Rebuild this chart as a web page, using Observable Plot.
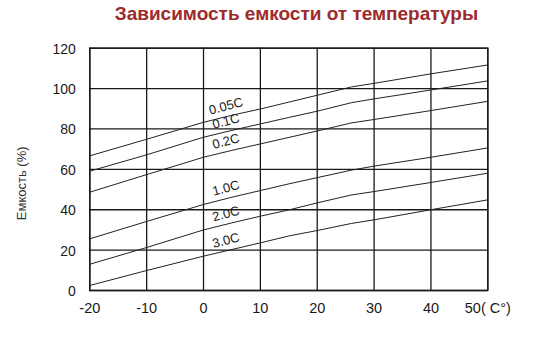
<!DOCTYPE html>
<html><head><meta charset="utf-8">
<script src="https://cdn.jsdelivr.net/npm/d3@7"></script>
<script src="https://cdn.jsdelivr.net/npm/@observablehq/plot@0.6"></script>
<style>
body{margin:0;background:#fff;font-family:"Liberation Sans",Arial,sans-serif;}
#title{height:30px;line-height:27px;text-align:center;padding-left:48px;box-sizing:border-box;width:545px;font-weight:bold;font-size:19px;color:#9e2a2b;}
</style>
</head><body>
<div id="title">Зависимость емкости от температуры</div>
<div id="chart"></div>
<script>
const temps = [-20, -10, 0, 5, 10, 15, 20, 26, 30, 40, 50];
const c005 = [66.7, 74.9, 83.3, 86.8, 89.9, 93.3, 96.7, 100.8, 102.6, 107.3, 111.7];
const c01  = [59.1, 67.2, 75.9, 79.3, 82.5, 85.7, 88.8, 93.0, 94.9, 99.3, 103.8];
const c02  = [48.7, 57.4, 66.0, 69.4, 72.6, 75.8, 79.0, 83.0, 84.7, 89.1, 93.7];
const c10  = [25.6, 34.2, 42.6, 46.2, 49.5, 52.8, 55.9, 59.6, 61.6, 66.0, 70.6];
const c20  = [13.0, 21.3, 30.0, 33.5, 36.8, 39.9, 43.4, 47.3, 49.0, 53.5, 58.1];
const c30  = [2.5, 9.9, 17.0, 20.3, 23.6, 27.0, 29.7, 33.2, 35.0, 40.0, 44.9];
const seriesNames = ["0.05C", "0.1C", "0.2C", "1.0C", "2.0C", "3.0C"];
const seriesValues = [c005, c01, c02, c10, c20, c30];
const xTicks = [-20, -10, 0, 10, 20, 30, 40, 50];
const yTicks = [0, 20, 40, 60, 80, 100, 120];
const labelTemp = 5;

const data = [];
seriesNames.forEach((name, i) => temps.forEach((t, j) => data.push({series: name, t, v: seriesValues[i][j]})));
const labelPts = data.filter(d => d.t === labelTemp);

const ink = "#1a1a1a";
const chart = Plot.plot({
  width: 545, height: 318,
  marginLeft: 89.3, marginRight: 57.7, marginTop: 17.7, marginBottom: 58,
  style: {fontFamily: '"Liberation Sans", Arial, sans-serif', background: "#fff", color: ink},
  x: {domain: [-20, 50]},
  y: {domain: [0, 120]},
  marks: [
    Plot.gridX(xTicks, {stroke: ink, strokeOpacity: 1, strokeWidth: 1.3}),
    Plot.gridY(yTicks, {stroke: ink, strokeOpacity: 1, strokeWidth: 1.3}),
    Plot.frame({stroke: ink, strokeWidth: 1.4}),
    Plot.axisX({ticks: xTicks, tickSize: 0, tickPadding: 12, fontSize: 14.5, label: null,
      tickFormat: d => d === 50 ? "50( C°)" : String(d)}),
    Plot.axisY({ticks: yTicks, tickSize: 0, tickPadding: 14, fontSize: 14, dy: 1, label: null}),
    Plot.text(["Емкость (%)"], {frameAnchor: "left", textAnchor: "middle", text: d => d, rotate: -90, dx: -68, dy: 14, fontSize: 13, fill: "#333"}),
    Plot.line(data, {x: "t", y: "v", z: "series", stroke: "#222", strokeWidth: 1}),
    Plot.text(labelPts, {x: "t", y: "v", text: "series", rotate: -15, dx: -6, dy: -9, fontSize: 13, fill: "#222"})
  ]
});
document.getElementById("chart").appendChild(chart);
</script>
</body></html>
